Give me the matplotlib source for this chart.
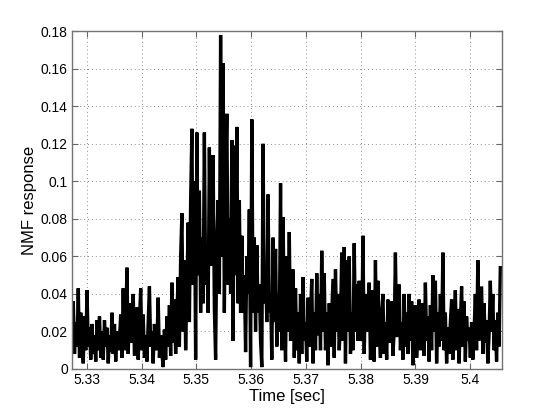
import numpy as np
import matplotlib
matplotlib.use("Agg")
import matplotlib.pyplot as plt

plt.rcParams['font.family'] = ['Liberation Sans', 'DejaVu Sans']

# sample times
t_start = 5.3273
t_step = 0.000228

# NMF response values
nmf = [
    .018, .036, .008, .025, .012, .043, .006, .030,
    .014, .003, .028, .010, .042, .012, .022, .005,
    .024, .008, .018, .004, .026, .010, .028, .006,
    .020, .005, .026, .012, .022, .003, .018, .009,
    .030, .008, .024, .004, .020, .010, .016, .029,
    .006, .043, .010, .022, .054, .008, .035, .014,
    .024, .040, .007, .020, .033, .005, .026, .043,
    .010, .029, .006, .018, .004, .025, .044, .012,
    .020, .003, .024, .010, .014, .038, .006, .018,
    .008, .001, .021, .005, .028, .012, .034, .007,
    .046, .014, .037, .008, .030, .049, .012, .060,
    .083, .020, .058, .010, .042, .078, .025, .090,
    .128, .045, .100, .005, .126, .050, .095, .030,
    .070, .035, .126, .045, .060, .030, .118, .055,
    .060, .114, .032, .005, .070, .090, .040, .178,
    .060, .163, .030, .100, .136, .045, .080, .040,
    .122, .015, .119, .050, .129, .035, .090, .030,
    .071, .030, .050, .009, .060, .040, .085, .001,
    .133, .030, .070, .020, .066, .030, .045, .015,
    .001, .120, .035, .055, .025, .093, .030, .040,
    .005, .070, .025, .064, .012, .040, .020, .099,
    .010, .081, .030, .004, .060, .020, .073, .015,
    .021, .053, .006, .043, .010, .030, .003, .040,
    .008, .049, .015, .025, .004, .038, .012, .028,
    .048, .003, .030, .010, .051, .018, .040, .010,
    .063, .020, .051, .010, .030, .002, .035, .012,
    .030, .048, .006, .053, .020, .040, .010, .025,
    .062, .015, .065, .003, .058, .020, .060, .008,
    .030, .010, .067, .020, .045, .015, .047, .025,
    .015, .071, .008, .040, .020, .030, .046, .005,
    .025, .042, .004, .058, .012, .047, .020, .006,
    .030, .040, .008, .025, .005, .037, .014, .030,
    .036, .007, .020, .062, .017, .030, .045, .010,
    .025, .005, .040, .012, .030, .008, .040, .015,
    .036, .002, .025, .034, .006, .020, .037, .010,
    .025, .035, .007, .046, .015, .028, .004, .034,
    .010, .050, .020, .047, .003, .030, .012, .040,
    .015, .062, .010, .030, .003, .022, .008, .025,
    .037, .005, .020, .042, .010, .032, .003, .025,
    .044, .012, .036, .004, .028, .015, .022, .006,
    .025, .005, .020, .040, .010, .058, .015, .030,
    .044, .008, .035, .014, .026, .003, .018, .047,
    .020, .040, .010, .026, .004, .030, .012, .054,
]

x_ticks = [5.33, 5.34, 5.35, 5.36, 5.37, 5.38, 5.39, 5.40]
x_tick_labels = ['5.33', '5.34', '5.35', '5.36', '5.37', '5.38', '5.39', '5.4']
y_ticks = [0, 0.02, 0.04, 0.06, 0.08, 0.10, 0.12, 0.14, 0.16, 0.18]
y_tick_labels = ['0', '0.02', '0.04', '0.06', '0.08', '0.1', '0.12', '0.14', '0.16', '0.18']

t = t_start + t_step * np.arange(len(nmf))

fig = plt.figure(figsize=(5.54, 4.16), dpi=100)
ax = fig.add_axes([0.13, 0.113, 0.776, 0.812])
ax.plot(t, nmf, color='black', linewidth=2.4, solid_joinstyle='miter')

ax.set_xlim(5.3273, 5.4058)
ax.set_ylim(0, 0.18)
ax.set_xticks(x_ticks)
ax.set_xticklabels(x_tick_labels)
ax.set_yticks(y_ticks)
ax.set_yticklabels(y_tick_labels)
ax.tick_params(direction='in', length=4, width=0.8, top=True, right=True,
               labelsize=10, colors='0.4', labelcolor='black', pad=3)
ax.grid(True, linestyle=(0, (1, 3)), color='0.55', linewidth=0.7)
for s in ax.spines.values():
    s.set_color('0.45')
    s.set_linewidth(1.0)

ax.set_xlabel('Time [sec]', fontsize=12, labelpad=1)
ax.set_ylabel('NMF response', fontsize=12, labelpad=3)

fig.savefig('out.png', dpi=100)
